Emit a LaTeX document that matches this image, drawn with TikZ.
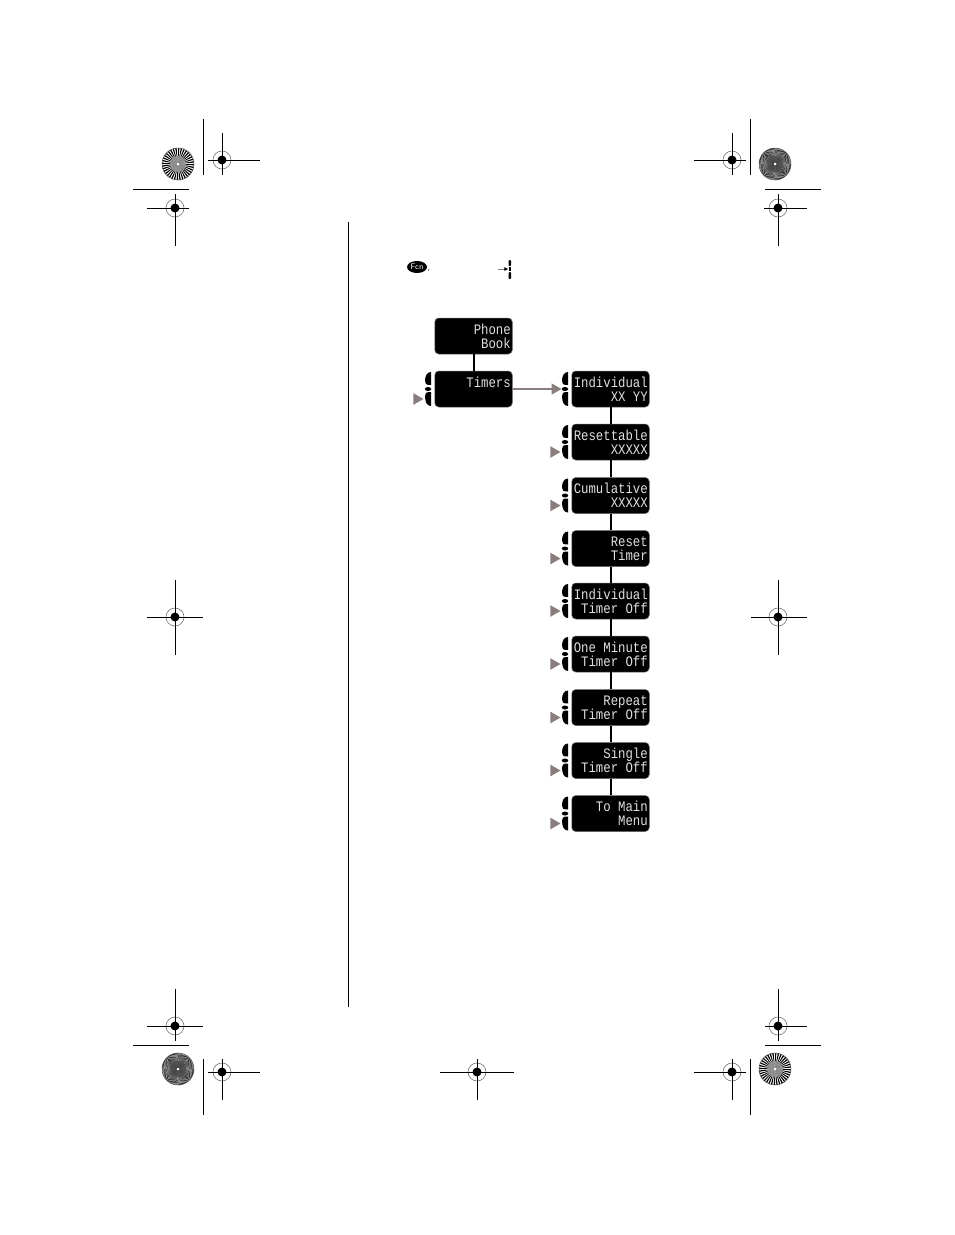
\documentclass[tikz,border=0pt]{standalone}
\usepackage{fontspec}
\newfontfamily\lcdfont[FakeStretch=0.85]{Liberation Mono}
\usetikzlibrary{arrows.meta,shapes.geometric}
\definecolor{softgrey}{HTML}{8A7D7D}
\tikzset{
  screen/.style={draw=black!60,fill=black,text=black!12,rounded corners=4pt,line width=.5pt,
    minimum height=36pt,text width=74.5pt,inner xsep=1.5pt,inner ysep=0pt,align=right,
    font=\lcdfont\fontsize{14.5}{14}\selectfont,execute at begin node={\spaceskip 7.39pt\relax}},
  softdot/.style={fill=black,ellipse,inner sep=0pt,minimum width=6.5pt,minimum height=4pt},
  softmark/.style={fill=softgrey,isosceles triangle,isosceles triangle apex angle=60,inner sep=0pt,minimum height=10pt,minimum width=11pt},
  link/.style={line width=2pt},
  trim/.style={line width=1pt},
}
% upper and lower soft key, drawn beside a screen
\newcommand{\softkeys}[2]{
  \fill (#1-3,#2-17) .. controls (#1-7,#2-17) and (#1-9,#2-13) .. (#1-9,#2-8)
     .. controls (#1-9,#2-5) and (#1-8,#2-4) .. (#1-3,#2-4) -- cycle;
  \fill (#1-3,#2+3) .. controls (#1-8,#2+3) and (#1-9,#2+4) .. (#1-9,#2+7)
     .. controls (#1-9,#2+13) and (#1-7,#2+17) .. (#1-3,#2+17) -- cycle;
}
% x, y, then left, right, up, down arm
\newcommand{\regmark}[6]{
  \draw[black!55,line width=.6pt] (#1,#2) circle (9);
  \fill (#1,#2) circle (4.5);
  \draw[trim] (#1-#3,#2) -- (#1+#4,#2);
  \draw[trim] (#1,#2-#5) -- (#1,#2+#6);
}
% x, y, number of spokes, grey of the middle
\newcommand{\starburst}[4]{
  \fill[white] (#1,#2) circle (16);
  \foreach \s in {1,...,#3}
    \fill (#1,#2) -- ({#1+16*cos(\s/#3*360)},{#2+16*sin(\s/#3*360)})
      arc ({\s/#3*360}:{\s/#3*360+180/#3}:16) -- cycle;
  \draw[black!70,line width=.5pt] (#1,#2) circle (16);
  \fill[black!#4,opacity=.8] (#1,#2) circle (8);
  \fill[white] (#1,#2) circle (1.5);
}
\begin{document}
\begin{tikzpicture}[x=1pt,y=-1pt]
\useasboundingbox (0,0) rectangle (954,1235);
% trim marks
\regmark{222}{160}{14}{38}{27}{15}
\regmark{175}{208}{28}{14}{14}{38}
\regmark{732}{160}{38}{14}{27}{15}
\regmark{778}{208}{14}{29}{14}{38}
\regmark{175}{617}{28}{28}{37}{38}
\regmark{778}{617}{27}{29}{37}{38}
\regmark{175}{1026}{28}{28}{37}{15}
\regmark{778}{1026}{13}{29}{37}{15}
\regmark{222}{1072}{14}{38}{13}{28}
\regmark{477}{1072}{37}{37}{13}{28}
\regmark{732}{1072}{38}{14}{13}{28}
\draw[trim] (203,119) -- (203,175);
\draw[trim] (750,119) -- (750,175);
\draw[trim] (203,1059) -- (203,1115);
\draw[trim] (750,1059) -- (750,1115);
\draw[trim] (133,189) -- (189,189);
\draw[trim] (765,189) -- (821,189);
\draw[trim] (133,1045) -- (189,1045);
\draw[trim] (765,1045) -- (821,1045);
\starburst{178}{164}{36}{40}
\starburst{775}{164}{90}{70}
\starburst{178}{1069}{90}{70}
\starburst{775}{1069}{36}{40}
\draw[line width=1.2pt] (348.5,222) -- (348.5,1007);
% key legend
\node[fill=black,text=white,ellipse,inner sep=0pt,minimum width=20pt,minimum height=12pt,font=\sffamily\fontsize{8}{8}\selectfont] (fcnkey) at (417,267) {Fcn};
\node[inner sep=0pt,font=\sffamily\fontsize{9}{9}\selectfont] (fcncomma) at (429,271) {,};
\fill[rounded corners=.8pt] (508.7,260) rectangle (511,266);
\node[fill=black,inner sep=0pt,minimum width=2.4pt,minimum height=3.2pt] (legdot) at (509.8,269) {};
\fill[rounded corners=.8pt] (508.7,272) rectangle (511,279);
\coordinate (legstart) at (498,269);
\draw[softgrey,line width=.8pt,-{Latex[length=4pt,width=4pt,black]}] (legstart) -- (legdot);
% menu
\node[screen] (phone) at (473.5,336) {Phone\\Book};
\node[screen] (timers) at (473.5,389) {Timers\\\phantom{X}};
\foreach \nm/\yy/\txt in {ind/389/{Individual\\XX YY},res/442/{Resettable\\XXXXX},cum/495.5/{Cumulative\\XXXXX},
    rst/548.5/{Reset\\Timer},indoff/601/{Individual\\Timer Off},one/654/{One Minute\\Timer Off},
    rep/707.5/{Repeat\\Timer Off},sgl/760.5/{Single\\Timer Off},tomain/813.5/{To Main\\Menu}}
  \node[screen] (\nm) at (610.5,\yy) {\txt};
\draw[link] (phone) -- (timers);
\foreach \a/\b in {ind/res,res/cum,cum/rst,rst/indoff,indoff/one,one/rep,rep/sgl,sgl/tomain}
  \draw[link] (\a) -- (\b);
% soft keys and their marks
\softkeys{434}{389}
\node[softdot] (timersdot) at (428,389) {};
\node[softmark] (timersmark) at (416.8,399) {};
\foreach \nm/\yy in {ind/389,res/442,cum/495.5,rst/548.5,indoff/601,one/654,rep/707.5,sgl/760.5,tomain/813.5}{
  \softkeys{571}{\yy}
  \node[softdot] (\nm dot) at (565,\yy) {};
}
\foreach \nm/\yy in {res/452,cum/505.5,rst/558.5,indoff/611,one/664,rep/717.5,sgl/770.5,tomain/823.5}
  \node[softmark] (\nm mark) at (553.8,\yy) {};
\draw[softgrey,line width=1.4pt,-{Triangle[length=10pt,width=11pt]}] (timers) -- (inddot);
\end{tikzpicture}
\end{document}
